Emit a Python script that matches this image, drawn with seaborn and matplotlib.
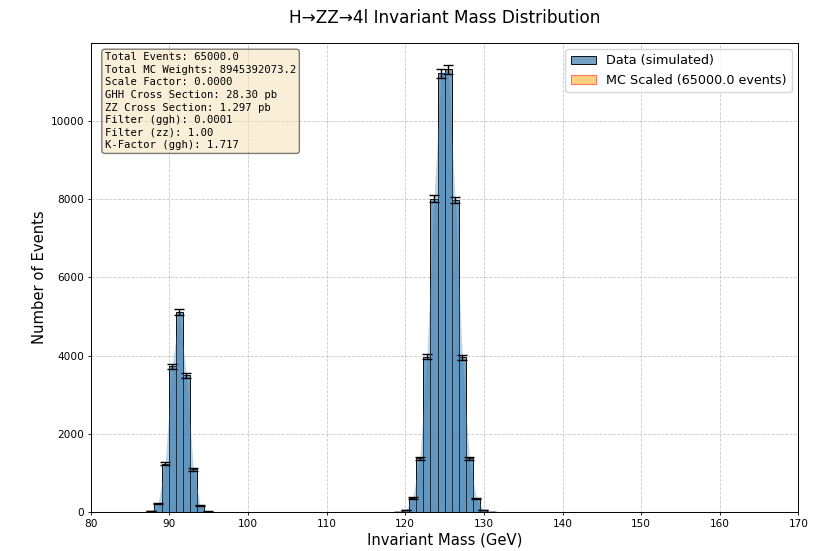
import numpy as np
import pandas as pd
import matplotlib
matplotlib.use("Agg")
import matplotlib.pyplot as plt
import seaborn as sns

# Histogram binning: 100 bins between 80 and 170 GeV
x_min, x_max, n_bins = 80, 170, 100
bin_edges = np.linspace(x_min, x_max, n_bins + 1)
bin_centers = 0.5 * (bin_edges[:-1] + bin_edges[1:])

# Non-zero bin contents (bin index -> count)
z_bins = [8, 9, 10, 11, 12, 13, 14, 15, 16]
z_counts = [20, 205, 1230, 3725, 5120, 3495, 1090, 153, 10]
h_bins = [43, 44, 45, 46, 47, 48, 49, 50, 51, 52, 53, 54, 55, 56]
h_counts = [5, 50, 350, 1375, 3970, 8010, 11220, 11320, 7980, 3960, 1375, 340, 50, 5]

counts = np.zeros(n_bins)
for b, c in zip(z_bins, z_counts):
    counts[b] = c
for b, c in zip(h_bins, h_counts):
    counts[b] = c
errors = np.sqrt(counts)
mc_scaled = np.zeros(n_bins)  # scale factor 0.0000

info_lines = [
    "Total Events: 65000.0",
    "Total MC Weights: 8945392073.2",
    "Scale Factor: 0.0000",
    "GHH Cross Section: 28.30 pb",
    "ZZ Cross Section: 1.297 pb",
    "Filter (ggh): 0.0001",
    "Filter (zz): 1.00",
    "K-Factor (ggh): 1.717",
]

df = pd.DataFrame({"mass": bin_centers, "counts": counts, "mc": mc_scaled})
edges_list = [float(e) for e in bin_edges]

plt.rcParams["font.family"] = ["DejaVu Sans"]
plt.rcParams["axes.linewidth"] = 0.7
fig, ax = plt.subplots(figsize=(8.18, 5.51), dpi=100)
fig.subplots_adjust(left=0.111, right=0.976, top=0.922, bottom=0.071)

sns.histplot(data=df, x="mass", weights="mc", bins=edges_list, ax=ax,
             color="orange", edgecolor=(1, 0, 0, 0.5), alpha=0.5, linewidth=0.8,
             label="MC Scaled (65000.0 events)")
sns.histplot(data=df, x="mass", weights="counts", bins=edges_list, ax=ax,
             color="steelblue", edgecolor="black", alpha=0.75, linewidth=0.65,
             label="Data (simulated)")
ax.fill_between(bin_centers, counts, color="steelblue", alpha=0.35, linewidth=0)
mask = counts > 0
ax.errorbar(bin_centers[mask], counts[mask], yerr=errors[mask], fmt="none",
            ecolor="black", elinewidth=1.0, capsize=3.3, capthick=1.0)

ax.set_xlim(x_min, x_max)
ax.set_ylim(0, None)
ax.set_xlabel("Invariant Mass (GeV)", fontsize=10.6, labelpad=2.7)
ax.set_ylabel("Number of Events", fontsize=10.6, labelpad=2.7)
ax.set_title("H→ZZ→4l Invariant Mass Distribution", fontsize=12.2, pad=14.5)
ax.grid(True, linestyle="--", linewidth=0.6, alpha=0.7)
ax.set_axisbelow(True)
ax.tick_params(axis="both", labelsize=7.6, length=2.4, pad=2.4, width=0.6)

handles, labels = ax.get_legend_handles_labels()
order = [labels.index("Data (simulated)"), labels.index("MC Scaled (65000.0 events)")]
ax.legend([handles[i] for i in order], [labels[i] for i in order],
          loc="upper right", fontsize=9.2, frameon=True)

ax.text(0.02, 0.98, "\n".join(info_lines), transform=ax.transAxes,
        va="top", ha="left", family="monospace", fontsize=7.6, linespacing=1.32,
        bbox=dict(boxstyle="round", facecolor="wheat", edgecolor="black", alpha=0.5))

fig.savefig("out.png", dpi=100)
